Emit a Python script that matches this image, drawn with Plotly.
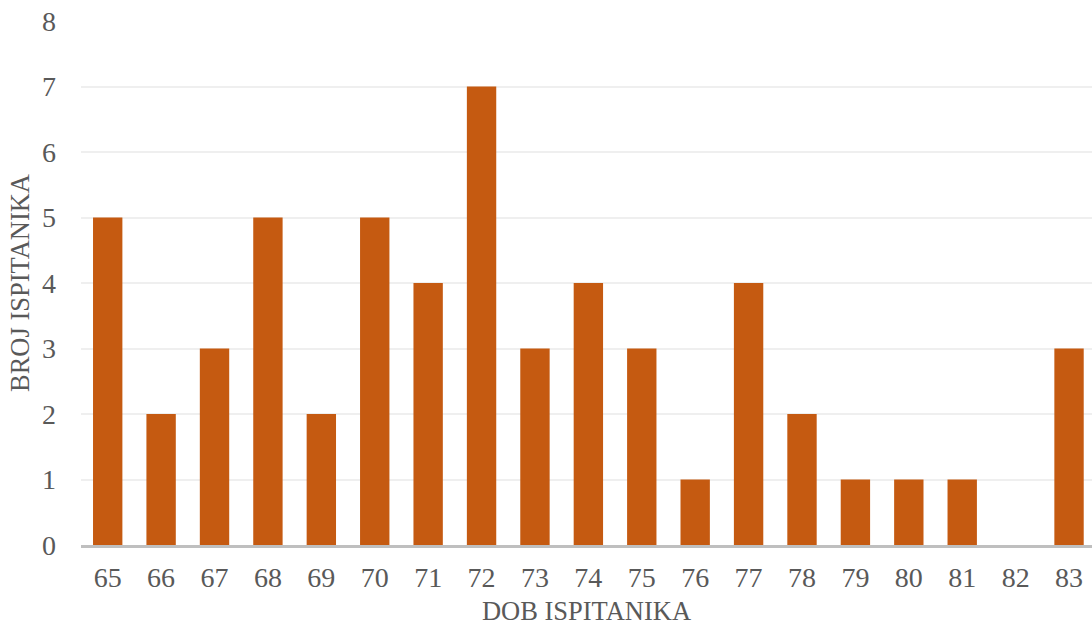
import plotly.graph_objects as go

ages = ["65", "66", "67", "68", "69", "70", "71", "72", "73", "74",
        "75", "76", "77", "78", "79", "80", "81", "82", "83"]
counts = [5, 2, 3, 5, 2, 5, 4, 7, 3, 4, 3, 1, 4, 2, 1, 1, 1, 0, 3]
y_ticks = [0, 1, 2, 3, 4, 5, 6, 7, 8]

FONT = "Liberation Serif, Times New Roman, serif"
TXT = "#595959"

fig = go.Figure(go.Bar(x=ages, y=counts, marker=dict(color="#C55A11", line=dict(width=0)),
                       hoverinfo="x+y"))

fig.update_layout(
    width=1092, height=628,
    margin=dict(l=81, r=0, t=21, b=83),
    plot_bgcolor="white", paper_bgcolor="white",
    bargap=0.45,
    showlegend=False,
    font=dict(family=FONT, color=TXT, size=28),
)
fig.update_xaxes(
    type="category", range=[-0.5, 18.43],
    showgrid=False, showline=True, linecolor="#BFBFBF", linewidth=2.5,
    ticks="", tickfont=dict(size=28, family=FONT, color=TXT), ticklabelstandoff=6,
    title=dict(text="DOB ISPITANIKA", font=dict(size=26.5, family=FONT, color=TXT), standoff=10),
)
fig.update_yaxes(
    range=[0, 8], tickvals=y_ticks, showgrid=True, gridcolor="#EFEFEF", gridwidth=1.5,
    zeroline=False, showline=False, ticks="",
    tickfont=dict(size=28, family=FONT, color=TXT), ticklabelstandoff=24,
    title=dict(text="BROJ ISPITANIKA", font=dict(size=26.5, family=FONT, color=TXT), standoff=4),
)

fig.write_html("out.html", config={"displayModeBar": False},
               post_script="document.body.style.margin='0';document.body.style.overflow='hidden';")
